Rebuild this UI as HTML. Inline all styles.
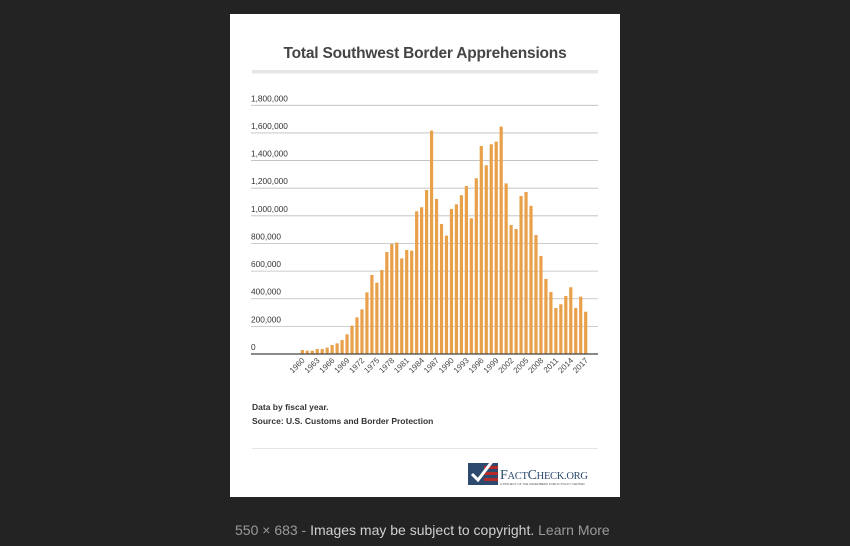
<!DOCTYPE html>
<html><head><meta charset="utf-8">
<style>
html,body{margin:0;padding:0;background:#232323;width:850px;height:546px;overflow:hidden;font-family:"Liberation Sans",sans-serif}
svg{position:absolute;left:0;top:0}
</style></head>
<body>
<svg id="c" width="850" height="546">
  <rect x="230" y="14" width="390" height="483" fill="#fff"/>
  <text x="425" y="58" text-anchor="middle" font-size="15.5" font-weight="bold" letter-spacing="-0.2" fill="#444">Total Southwest Border Apprehensions</text>
  <rect x="252" y="70" width="346" height="3.5" fill="#e6e6e6"/>
  <g id="grid"></g>
  <g id="bars"></g>
  <g id="xl"></g>
  <line x1="251" x2="598" y1="354" y2="354" stroke="#444" stroke-width="1.2"/>
  <text x="252" y="410" font-size="8.5" font-weight="bold" fill="#333">Data by fiscal year.</text>
  <text x="252" y="424" font-size="8.5" font-weight="bold" fill="#333">Source: U.S. Customs and Border Protection</text>
  <line x1="252" x2="598" y1="448.5" y2="448.5" stroke="#e4e4e4"/>
  <g>
    <rect x="468" y="463" width="30" height="22" fill="#2d4a6e"/>
    <rect x="484" y="466" width="14" height="3" fill="#b22a2a"/>
    <rect x="484" y="472" width="14" height="3" fill="#b22a2a"/>
    <rect x="484" y="478" width="14" height="3" fill="#b22a2a"/>
    <path d="M472 474 L478 480 L494 459" stroke="#fff" stroke-width="3" fill="none"/>
    <text x="500" y="479" font-family="Liberation Serif,serif" font-size="14" letter-spacing="-0.3" fill="#2d4a6e">F<tspan font-size="10.5">ACT</tspan>C<tspan font-size="10.5">HECK.ORG</tspan></text>
    <text x="500" y="485" font-size="3" fill="#555">A PROJECT OF THE ANNENBERG PUBLIC POLICY CENTER</text>
  </g>
  <text x="235" y="535" font-size="14" fill="#9a9a9a">550 × 683 - <tspan fill="#d0d0d0">Images may be subject to copyright.</tspan> <tspan fill="#9a9a9a">Learn More</tspan></text>
</svg>
<script>
const years = [];
for (let y = 1960; y <= 2017; y++) years.push(y);
const values = [29000,24000,24000,36000,36000,46000,65000,77000,101000,142000,205000,265000,323000,446000,572000,516000,608000,738000,796000,806000,692000,753000,748000,1033000,1062000,1187000,1617000,1122000,941000,857000,1050000,1083000,1149000,1216000,982000,1272000,1506000,1366000,1518000,1537000,1646000,1235000,934000,905000,1144000,1173000,1072000,861000,709000,543000,449000,333000,360000,420000,483000,333000,415000,306000];
const yTicks = [0,200000,400000,600000,800000,1000000,1200000,1400000,1600000,1800000];
const xLabelYears = [1960,1963,1966,1969,1972,1975,1978,1981,1984,1987,1990,1993,1996,1999,2002,2005,2008,2011,2014,2017];

const NS = "http://www.w3.org/2000/svg";
const y0 = 354, pxPer = (354 - 105.3) / 1800000;
const yS = v => y0 - v * pxPer;
const x0 = 302.3, step = (585.7 - 302.3) / 57;
const xS = yr => x0 + (yr - 1960) * step;

const grid = document.getElementById('grid');
yTicks.forEach(t => {
  if (t > 0) {
    const l = document.createElementNS(NS, 'line');
    l.setAttribute('x1', 251); l.setAttribute('x2', 598);
    l.setAttribute('y1', yS(t)); l.setAttribute('y2', yS(t));
    l.setAttribute('stroke', '#bdbdbd'); l.setAttribute('stroke-width', '0.8');
    
    
    grid.appendChild(l);
  }
  const tx = document.createElementNS(NS, 'text');
  tx.setAttribute('x', 251); tx.setAttribute('y', yS(t) - 4);
  tx.setAttribute('font-size', '8.3'); tx.setAttribute('fill', '#333');
  tx.textContent = t.toLocaleString('en-US');
  
  
  grid.appendChild(tx);
});

const bars = document.getElementById('bars');
values.forEach((v, i) => {
  const r = document.createElementNS(NS, 'rect');
  const cx = xS(years[i]);
  r.setAttribute('x', cx - 1.6); r.setAttribute('width', 3.2);
  r.setAttribute('y', yS(v)); r.setAttribute('height', y0 - yS(v));
  r.setAttribute('fill', '#e8a04a');
  
  
  bars.appendChild(r);
});

const xl = document.getElementById('xl');
xLabelYears.forEach(yr => {
  const t = document.createElementNS(NS, 'text');
  const cx = xS(yr) + 3, cy = 361;
  t.setAttribute('x', cx); t.setAttribute('y', cy);
  t.setAttribute('text-anchor', 'end');
  t.setAttribute('font-size', '8'); t.setAttribute('fill', '#444');
  t.setAttribute('transform', 'rotate(-45 ' + cx + ' ' + cy + ')');
  t.textContent = yr;
  
  
  xl.appendChild(t);
});
</script>
</body></html>
